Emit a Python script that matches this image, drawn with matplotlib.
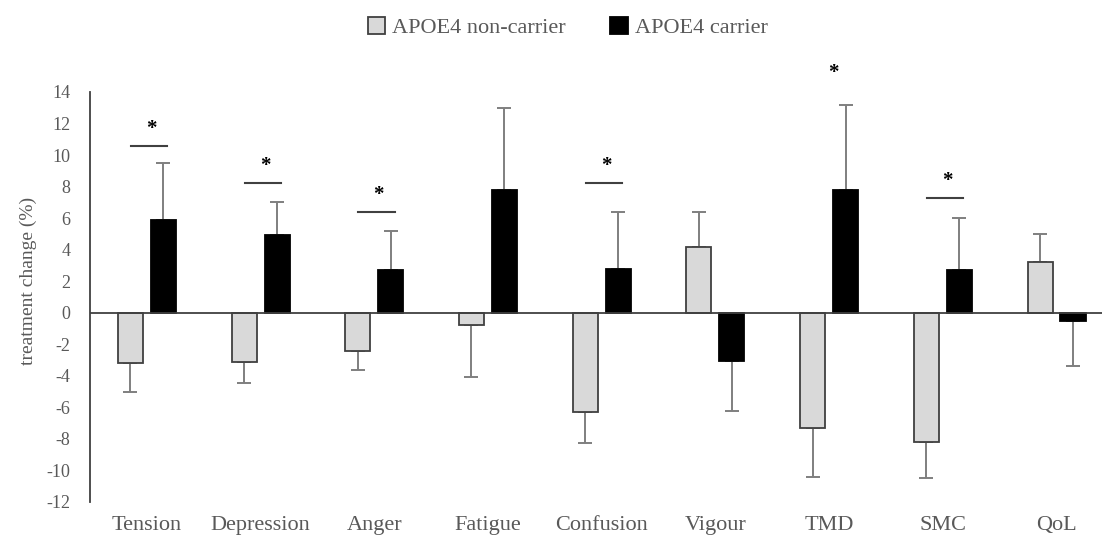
import matplotlib
matplotlib.use('agg')
import matplotlib.pyplot as plt
import numpy as np

# 数据
categories = ['Tension', 'Depression', 'Anger', 'Fatigue', 'Confusion', 'Vigour', 'TMD', 'SMC', 'QoL']
non_carrier = [-3.2, -3.1, -2.4, -0.8, -6.3, 4.2, -7.3, -8.2, 3.2]
non_carrier_err = [1.8, 1.35, 1.2, 3.3, 1.95, 2.2, 3.1, 2.3, 1.8]
carrier = [5.9, 4.9, 2.7, 7.8, 2.8, -3.05, 7.8, 2.7, -0.5]
carrier_err = [3.6, 2.1, 2.5, 5.2, 3.6, 3.15, 5.4, 3.3, 2.9]
# 显著性标记 (类别序号, 横线高度)
sig_idx = [0, 1, 2, 4, 6, 7]
sig_y = [10.6, 8.2, 6.4, 8.2, 14.1, 7.3]

plt.rcParams['font.family'] = ['Liberation Serif', 'DejaVu Serif']
plt.rcParams['axes.unicode_minus'] = False
txt = '#595959'

fig = plt.figure(figsize=(11.02, 5.48), dpi=100)
ax = fig.add_axes([90 / 1102, 46 / 548, 1 - 90 / 1102, 410 / 548])

x = np.arange(len(categories))
w = 0.22
off = 0.145

def one_sided(vals, errs):
    lo = [e if v < 0 else 0 for v, e in zip(vals, errs)]
    hi = [e if v >= 0 else 0 for v, e in zip(vals, errs)]
    return [lo, hi]

ax.bar(x - off, non_carrier, w, color='#d9d9d9', edgecolor='#404040', linewidth=1.3,
       label='APOE4 non-carrier', zorder=3)
ax.bar(x + off, carrier, w, color='black', edgecolor='black', linewidth=1.3,
       label='APOE4 carrier', zorder=3)
ax.errorbar(x - off, non_carrier, yerr=one_sided(non_carrier, non_carrier_err), fmt='none',
            ecolor='#7f7f7f', elinewidth=1.4, capsize=5, capthick=1.4, zorder=2)
ax.errorbar(x + off, carrier, yerr=one_sided(carrier, carrier_err), fmt='none',
            ecolor='#7f7f7f', elinewidth=1.4, capsize=5, capthick=1.4, zorder=2)

# 星号
for i, yy in zip(sig_idx, sig_y):
    ax.plot([i - 0.14, i + 0.18], [yy, yy], color='#404040', linewidth=1.5, zorder=3)
    ax.text(i + 0.04, yy + 0.45, '*', ha='center', va='bottom', fontsize=15,
            fontweight='bold', color='black')

ax.axhline(0, color='#404040', linewidth=1.3, zorder=4)
ax.set_xlim(-0.5, 8.4)
ax.set_ylim(-12, 14)
ax.set_yticks(np.arange(-12, 15, 2))
ax.set_xticks(x)
ax.set_xticklabels(categories, fontsize=16, color=txt)
ax.tick_params(axis='y', length=0, labelsize=13, labelcolor=txt, pad=14)
ax.tick_params(axis='x', length=0, pad=10)
for s in ['top', 'right', 'bottom']:
    ax.spines[s].set_visible(False)
ax.spines['left'].set_color('#404040')
ax.spines['left'].set_linewidth(1.3)
ax.set_ylabel('treatment change (%)', fontsize=14, color=txt)
ax.yaxis.set_label_coords(-0.052, 0.54)

leg = fig.legend(loc='upper center', bbox_to_anchor=(0.515, 1.005), ncol=2, frameon=False,
                 fontsize=16, handlelength=0.8, handleheight=0.8, handletextpad=0.3,
                 columnspacing=2.0)
for t in leg.get_texts():
    t.set_color(txt)

fig.savefig('out.png', dpi=100)
